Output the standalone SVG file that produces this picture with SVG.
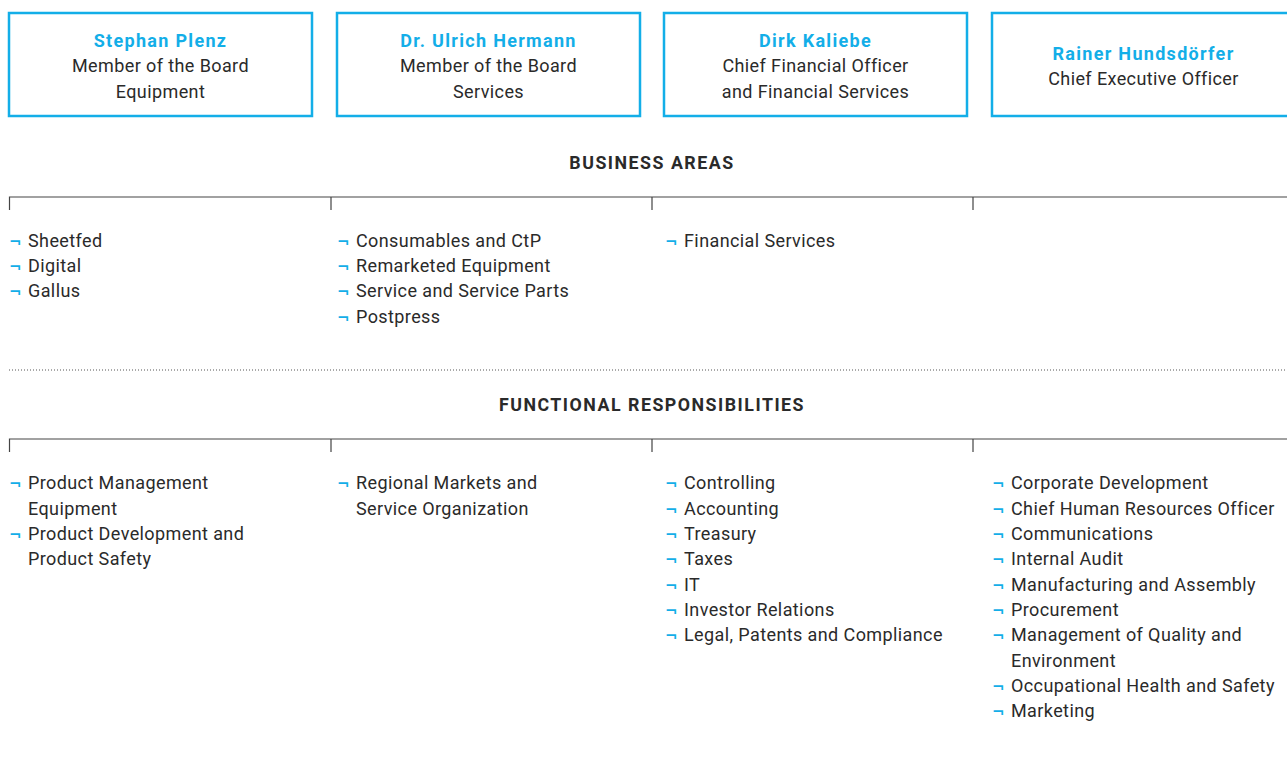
<svg xmlns="http://www.w3.org/2000/svg" width="1287" height="758" viewBox="0 0 1287 758">
  <style>
    .box { fill: #ffffff; stroke: #13aee8; stroke-width: 2.5; }
    .name { font-family: Roboto, "Liberation Sans", sans-serif; font-size: 18px; font-weight: bold; fill: #13aee8; text-anchor: middle; letter-spacing: 1.3px; }
    .role { font-family: Roboto, "Liberation Sans", sans-serif; font-size: 18px; fill: #2a2a2a; text-anchor: middle; letter-spacing: 0.4px; }
    .head { font-family: Roboto, "Liberation Sans", sans-serif; font-size: 17.8px; font-weight: bold; fill: #2a2a2a; text-anchor: middle; letter-spacing: 1.5px; }
    .item { font-family: Roboto, "Liberation Sans", sans-serif; font-size: 18px; fill: #2a2a2a; letter-spacing: 0.4px; }
    .bul { font-family: "DejaVu Sans", sans-serif; font-size: 15px; font-weight: bold; fill: #13aee8; }
    .rule { stroke: #444444; stroke-width: 1.2; fill: none; }
    .dots { stroke: #555555; stroke-width: 1; stroke-dasharray: 1 2; fill: none; }
  </style>

  <!-- board members -->
  <g id="node-plenz">
    <rect class="box" x="9" y="13" width="303" height="103"/>
    <text class="name" x="160.5" y="47">Stephan Plenz</text>
    <text class="role" x="160.5" y="72">Member of the Board</text>
    <text class="role" x="160.5" y="98">Equipment</text>
  </g>
  <g id="node-hermann">
    <rect class="box" x="337" y="13" width="303" height="103"/>
    <text class="name" x="488.5" y="47">Dr. Ulrich Hermann</text>
    <text class="role" x="488.5" y="72">Member of the Board</text>
    <text class="role" x="488.5" y="98">Services</text>
  </g>
  <g id="node-kaliebe">
    <rect class="box" x="664" y="13" width="303" height="103"/>
    <text class="name" x="815.5" y="47">Dirk Kaliebe</text>
    <text class="role" x="815.5" y="72">Chief Financial Officer</text>
    <text class="role" x="815.5" y="98">and Financial Services</text>
  </g>
  <g id="node-hundsdoerfer">
    <rect class="box" x="992" y="13" width="303" height="103"/>
    <text class="name" x="1143.5" y="60">Rainer Hundsdörfer</text>
    <text class="role" x="1143.5" y="85">Chief Executive Officer</text>
  </g>

  <!-- section rules -->
  <g id="connectors">
    <path class="rule" d="M9.5 210 V197 H1287 M331 197 V210 M652 197 V210 M973 197 V210"/>
    <line class="dots" x1="9" y1="370" x2="1287" y2="370"/>
    <path class="rule" d="M9.5 452 V439 H1287 M331 439 V452 M652 439 V452 M973 439 V452"/>
  </g>

  <!-- headings -->
  <g id="heading-business">
    <text class="head" x="652" y="169">BUSINESS AREAS</text>
  </g>
  <g id="heading-functional">
    <text class="head" x="652" y="411">FUNCTIONAL RESPONSIBILITIES</text>
  </g>

  <!-- business areas -->
  <g id="business-plenz">
    <text class="bul" x="9" y="247">¬</text><text class="item" x="28" y="247">Sheetfed</text>
    <text class="bul" x="9" y="272">¬</text><text class="item" x="28" y="272">Digital</text>
    <text class="bul" x="9" y="297">¬</text><text class="item" x="28" y="297">Gallus</text>
  </g>
  <g id="business-hermann">
    <text class="bul" x="337" y="247">¬</text><text class="item" x="356" y="247">Consumables and CtP</text>
    <text class="bul" x="337" y="272">¬</text><text class="item" x="356" y="272">Remarketed Equipment</text>
    <text class="bul" x="337" y="297">¬</text><text class="item" x="356" y="297">Service and Service Parts</text>
    <text class="bul" x="337" y="323">¬</text><text class="item" x="356" y="323">Postpress</text>
  </g>
  <g id="business-kaliebe">
    <text class="bul" x="665" y="247">¬</text><text class="item" x="684" y="247">Financial Services</text>
  </g>

  <!-- functional responsibilities -->
  <g id="functional-plenz">
    <text class="bul" x="9" y="489">¬</text><text class="item" x="28" y="489">Product Management</text>
    <text class="item" x="28" y="515">Equipment</text>
    <text class="bul" x="9" y="540">¬</text><text class="item" x="28" y="540">Product Development and</text>
    <text class="item" x="28" y="565">Product Safety</text>
  </g>
  <g id="functional-hermann">
    <text class="bul" x="337" y="489">¬</text><text class="item" x="356" y="489">Regional Markets and</text>
    <text class="item" x="356" y="515">Service Organization</text>
  </g>
  <g id="functional-kaliebe">
    <text class="bul" x="665" y="489">¬</text><text class="item" x="684" y="489">Controlling</text>
    <text class="bul" x="665" y="515">¬</text><text class="item" x="684" y="515">Accounting</text>
    <text class="bul" x="665" y="540">¬</text><text class="item" x="684" y="540">Treasury</text>
    <text class="bul" x="665" y="565">¬</text><text class="item" x="684" y="565">Taxes</text>
    <text class="bul" x="665" y="591">¬</text><text class="item" x="684" y="591">IT</text>
    <text class="bul" x="665" y="616">¬</text><text class="item" x="684" y="616">Investor Relations</text>
    <text class="bul" x="665" y="641">¬</text><text class="item" x="684" y="641">Legal, Patents and Compliance</text>
  </g>
  <g id="functional-hundsdoerfer">
    <text class="bul" x="992" y="489">¬</text><text class="item" x="1011" y="489">Corporate Development</text>
    <text class="bul" x="992" y="515">¬</text><text class="item" x="1011" y="515">Chief Human Resources Officer</text>
    <text class="bul" x="992" y="540">¬</text><text class="item" x="1011" y="540">Communications</text>
    <text class="bul" x="992" y="565">¬</text><text class="item" x="1011" y="565">Internal Audit</text>
    <text class="bul" x="992" y="591">¬</text><text class="item" x="1011" y="591">Manufacturing and Assembly</text>
    <text class="bul" x="992" y="616">¬</text><text class="item" x="1011" y="616">Procurement</text>
    <text class="bul" x="992" y="641">¬</text><text class="item" x="1011" y="641">Management of Quality and</text>
    <text class="item" x="1011" y="667">Environment</text>
    <text class="bul" x="992" y="692">¬</text><text class="item" x="1011" y="692">Occupational Health and Safety</text>
    <text class="bul" x="992" y="717">¬</text><text class="item" x="1011" y="717">Marketing</text>
  </g>
</svg>
